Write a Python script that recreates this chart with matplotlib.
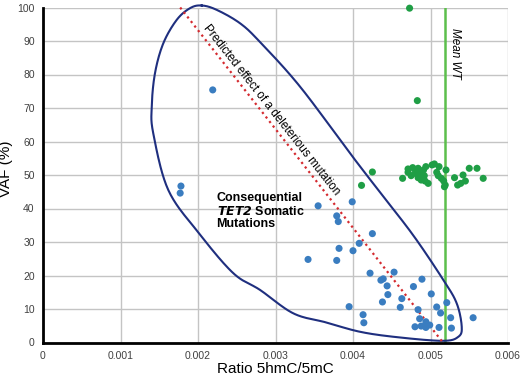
import numpy as np
import matplotlib
matplotlib.use("Agg")
import matplotlib.pyplot as plt

plt.rcParams['font.family'] = ['Liberation Sans', 'DejaVu Sans']

# ---- data ----
mut_ratio = [0.00219, 0.00178, 0.00177, 0.00355, 0.00399, 0.00379, 0.00381, 0.00425,
             0.00408, 0.00382, 0.00400, 0.00342, 0.00379, 0.00422, 0.00453, 0.00436,
             0.00439, 0.00489, 0.00444, 0.00478, 0.00445, 0.00501, 0.00463, 0.00438,
             0.00521, 0.00395, 0.00461, 0.00508, 0.00484, 0.00513, 0.00413, 0.00486,
             0.00526, 0.00555, 0.00414, 0.00494, 0.00499, 0.00480, 0.00494, 0.00511,
             0.00527, 0.00488]
mut_vaf = [75.4, 46.7, 44.6, 40.8, 42.0, 37.8, 36.1, 32.5,
           29.6, 28.1, 27.4, 24.8, 24.5, 20.7, 21.0, 18.6,
           19.0, 18.9, 16.9, 16.7, 14.3, 14.5, 13.1, 12.1,
           11.9, 10.7, 10.5, 10.6, 9.8, 8.8, 8.3, 7.1,
           7.4, 7.4, 5.9, 6.2, 5.2, 4.7, 4.5, 4.5,
           4.3, 4.9]

wt_ratio = [0.00473, 0.00483, 0.00425, 0.00411,
            0.00464, 0.00471, 0.00477, 0.00471, 0.00475, 0.00480, 0.00484, 0.00488,
            0.00491, 0.00494, 0.00492, 0.00493, 0.00497, 0.00502, 0.00505, 0.00508,
            0.00511, 0.00510, 0.00514, 0.00517, 0.00519, 0.00520, 0.00518, 0.00531,
            0.00535, 0.00539, 0.00542, 0.00545, 0.00550, 0.00560, 0.00568, 0.00484,
            0.00487]
wt_vaf = [99.8, 72.2, 50.9, 46.9,
          49.0, 51.8, 52.2, 50.8, 49.8, 50.5, 49.2, 48.5,
          51.5, 52.5, 49.8, 48.2, 47.5, 53.0, 53.3, 50.8,
          52.5, 49.8, 49.0, 48.2, 47.0, 51.5, 46.5, 49.2,
          47.0, 47.5, 50.0, 48.2, 52.0, 52.0, 49.0, 52.0,
          50.5]

mean_wt = 0.005187
predicted_line_x = [0.00177, 0.00516]
predicted_line_y = [100, 0]

# outline of the "consequential mutations" region (annotation)
outline_x = [0.002048, 0.002241, 0.002542, 0.002800, 0.003316, 0.003961, 0.004326,
             0.004774, 0.005165, 0.005338, 0.005403, 0.005359, 0.005157, 0.004564,
             0.004090, 0.003652, 0.003230, 0.002800, 0.002455, 0.002013, 0.001617,
             0.001423, 0.001403, 0.001445, 0.001552, 0.001725, 0.001897]
outline_y = [100.6, 99.3, 95.3, 89.7, 76.4, 56.5, 45.5,
             32.1, 18.7, 11.7, 4.7, 1.7, 0.5, 1.6,
             3.2, 6.0, 8.7, 15.7, 20.7, 32.6, 45.5,
             62.4, 70.4, 80.4, 89.3, 96.3, 99.8]

x_ticks = [0, 0.001, 0.002, 0.003, 0.004, 0.005, 0.006]
x_tick_labels = ['0', '0.001', '0.002', '0.003', '0.004', '0.005', '0.006']
y_ticks = list(range(0, 101, 10))


def closed_catmull_rom(xs, ys, n=20):
    P = np.column_stack([xs, ys]).astype(float)
    m = len(P)
    out = []
    for i in range(m):
        p0, p1, p2, p3 = P[(i - 1) % m], P[i], P[(i + 1) % m], P[(i + 2) % m]
        t = np.linspace(0, 1, n, endpoint=False)[:, None]
        seg = 0.5 * ((2 * p1) + (-p0 + p2) * t + (2 * p0 - 5 * p1 + 4 * p2 - p3) * t ** 2
                     + (-p0 + 3 * p1 - 3 * p2 + p3) * t ** 3)
        out.append(seg)
    out = np.vstack(out)
    out = np.vstack([out, out[:1]])
    return out[:, 0], out[:, 1]


fig = plt.figure(figsize=(5.2, 3.8), dpi=100)
ax = fig.add_axes([43 / 520, 1 - 342.5 / 380, 465 / 520, 335 / 380])

ax.set_xlim(0, 0.006)
ax.set_ylim(0, 100)

ax.set_xticks(x_ticks)
ax.set_xticklabels(x_tick_labels)
ax.set_yticks(y_ticks)
ax.tick_params(length=0, labelsize=7.5, labelcolor='#404040')
ax.tick_params(axis='y', pad=6)
ax.tick_params(axis='x', pad=6)

ax.grid(True, color='#c4c4c4', linewidth=1)
ax.set_axisbelow(True)
for s in ['top', 'right']:
    ax.spines[s].set_visible(False)
for s in ['left', 'bottom']:
    ax.spines[s].set_linewidth(2)
    ax.spines[s].set_color('black')
    ax.spines[s].set_zorder(5)

# outline
ox, oy = closed_catmull_rom(outline_x, outline_y)
ax.plot(ox, oy, color='#1f2f7f', linewidth=1.5, clip_on=False, zorder=3)

# predicted line
ax.plot(predicted_line_x, predicted_line_y, color='#d42a2f', linestyle=(0, (1, 1.6)),
        linewidth=1.6, zorder=3, clip_on=False)

# mean WT line
ax.plot([mean_wt, mean_wt], [0, 100], color='#5cbf4c', linewidth=1.8, zorder=2)

ax.scatter(wt_ratio, wt_vaf, s=26, color='#1f9e45', edgecolors='none', zorder=4, clip_on=False)
ax.scatter(mut_ratio, mut_vaf, s=26, color='#3a7dc0', edgecolors='none', zorder=4)

ax.text(0.002942, 69.4, 'Predicted effect of a deleterious mutation', rotation=-51.8,
        rotation_mode='anchor', ha='center', va='center', fontsize=8.5, color='black')
ax.text(0.005316, 86.4, 'Mean WT', rotation=-90, ha='center', va='center',
        fontsize=8.5, style='italic', color='black')
ax.text(0.00224, 43.0, 'Consequential', fontsize=9, fontweight='bold', ha='left', va='center')
ax.text(0.00224, 39.2, r'$\mathbfit{TET2}$ Somatic', fontsize=9, fontweight='bold',
        ha='left', va='center')
ax.text(0.00224, 35.4, 'Mutations', fontsize=9, fontweight='bold', ha='left', va='center')

ax.set_xlabel('Ratio 5hmC/5mC', fontsize=11)
ax.set_ylabel('VAF (%)', fontsize=11)
ax.xaxis.set_label_coords(0.5, (342.5 - 362) / 335)
ax.yaxis.set_label_coords((13 - 43) / 465, 0.52)

fig.savefig('out.png', dpi=100)
